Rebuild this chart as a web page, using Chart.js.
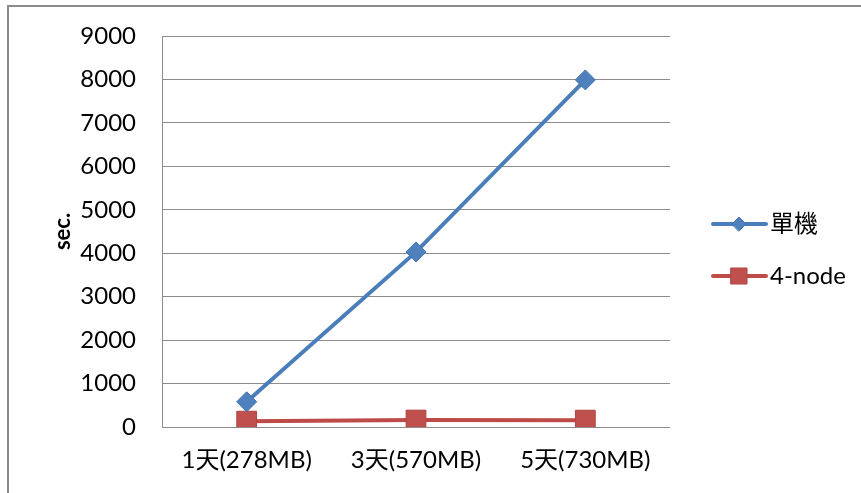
<!DOCTYPE html>
<html>
<head>
<meta charset="utf-8">
<script src="https://cdn.jsdelivr.net/npm/chart.js@4.4.1/dist/chart.umd.min.js"></script>
<style>
  body { margin: 0; background: #fff; }
  #frame {
    position: absolute; left: 7px; top: 5px; right: 0; bottom: 0;
    border-top: 2px solid #8a8a8a; border-left: 2px solid #8a8a8a;
  }
  #wrap { position: absolute; left: 0; top: 0; width: 861px; height: 493px; }
</style>
</head>
<body>
<div id="frame"></div>
<div id="wrap"><canvas id="myLineChart"></canvas></div>
<script>
// data
const labels = ['1天(278MB)', '3天(570MB)', '5天(730MB)'];
const single = [580, 4030, 7990];
const fourNode = [135, 160, 158];
const yTicks = [0, 1000, 2000, 3000, 4000, 5000, 6000, 7000, 8000, 9000];

const FONT = "Lato, 'Noto Sans CJK TC', sans-serif";

// legend on the right: line with marker in the middle
const sideLegend = {
    id: 'sideLegend',
    afterDraw(chart) {
        const ctx = chart.ctx;
        const rows = [224, 276];
        chart.data.datasets.forEach((ds, i) => {
            const y = rows[i];
            ctx.save();
            ctx.strokeStyle = ds.borderColor;
            ctx.lineWidth = 4;
            ctx.lineCap = 'round';
            ctx.beginPath();
            ctx.moveTo(713, y);
            ctx.lineTo(766, y);
            ctx.stroke();
            ctx.fillStyle = ds.pointBackgroundColor;
            ctx.strokeStyle = ds.pointBorderColor;
            ctx.lineWidth = 1;
            ctx.beginPath();
            if (ds.pointStyle === 'rectRot') {
                ctx.moveTo(739 - 7, y); ctx.lineTo(739, y - 7);
                ctx.lineTo(739 + 7, y); ctx.lineTo(739, y + 7);
            } else {
                ctx.rect(739 - 8, y - 8, 16, 16);
            }
            ctx.closePath();
            ctx.fill();
            ctx.stroke();
            ctx.fillStyle = '#000';
            ctx.font = '24px ' + FONT;
            ctx.textBaseline = 'middle';
            ctx.fillText(ds.label, 770, y);
            ctx.restore();
        });
    }
};

const ctx = document.getElementById('myLineChart').getContext('2d');
const myLineChart = new Chart(ctx, {
    type: 'line',
    data: {
        labels: labels,
        datasets: [{
            label: '單機',
            data: single,
            borderColor: '#4A7EBB',
            borderWidth: 4,
            pointStyle: 'rectRot',
            pointRadius: 10,
            pointBackgroundColor: '#4F81BD',
            pointBorderColor: '#3F72AF',
            pointBorderWidth: 1,
            tension: 0
        }, {
            label: '4-node',
            data: fourNode,
            borderColor: '#BE4B48',
            borderWidth: 4,
            pointStyle: 'rect',
            pointRadius: 14,
            pointBackgroundColor: '#C0504D',
            pointBorderColor: '#B04542',
            pointBorderWidth: 1,
            tension: 0
        }]
    },
    options: {
        responsive: true,
        maintainAspectRatio: false,
        animation: false,
        layout: { padding: { left: 50, right: 191, top: 36, bottom: 0 } },
        plugins: {
            legend: { display: false },
            tooltip: { enabled: false }
        },
        scales: {
            x: {
                offset: true,
                grid: { display: false, drawTicks: false },
                border: { display: false },
                ticks: {
                    color: '#000',
                    font: { family: FONT, size: 24 },
                    padding: 19,
                    maxRotation: 0
                },
                afterFit(scale) {
                    scale.height = 66;
                    scale.paddingLeft = 0;
                    scale.paddingRight = 0;
                }
            },
            y: {
                min: 0,
                max: 9000,
                afterBuildTicks(scale) { scale.ticks = yTicks.map(v => ({ value: v })); },
                grid: { color: '#8c8c8c', lineWidth: 1, drawTicks: false },
                border: { display: true, color: '#8c8c8c', width: 1 },
                ticks: {
                    color: '#000',
                    font: { family: FONT, size: 24 },
                    padding: 26,
                    callback: v => String(v)
                },
                title: {
                    display: true,
                    text: 'sec.',
                    color: '#000',
                    font: { family: FONT, size: 22, weight: 'bold' },
                    padding: 0
                },
                afterFit(scale) {
                    scale.width = 112;
                    scale.paddingTop = 0;
                    scale.paddingBottom = 0;
                }
            }
        }
    },
    plugins: [sideLegend]
});
</script>
</body>
</html>
